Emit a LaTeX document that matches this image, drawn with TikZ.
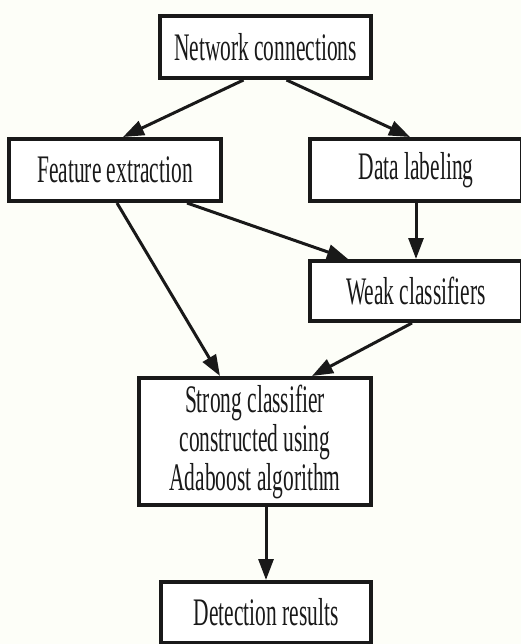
\documentclass[tikz,border=0pt]{standalone}
\usepackage{fontspec}
\newfontfamily\condserif[FakeStretch=0.55]{Liberation Serif}
\usetikzlibrary{arrows.meta}
\definecolor{bgcol}{RGB}{253,254,248}
\definecolor{inkcol}{RGB}{25,25,25}
\begin{document}
\begin{tikzpicture}[x=1pt,y=-1pt,
  box/.style={draw=inkcol,line width=4pt,fill=white,inner sep=0pt,
    font=\condserif\fontsize{39}{39}\selectfont,text=inkcol,align=center},
  arr/.style={draw=inkcol,line width=3pt,-{Triangle[length=21pt,width=15pt]}}]
\clip (0,0) rectangle (521,644);
\fill[bgcol] (0,0) rectangle (521,644);
\node[box,minimum width=211pt,minimum height=62pt] (net) at (265.5,47) {Network connections};
\node[box,minimum width=212pt,minimum height=62pt] (feat) at (115,170) {Feature extraction};
\node[box,minimum width=212pt,minimum height=62pt] (data) at (416,170) {Data labeling};
\node[box,minimum width=212pt,minimum height=60pt] (weak) at (416,291) {Weak classifiers};
\node[box,minimum width=232pt,minimum height=127pt] (strong) at (255,441.5) {Strong classifier\\constructed using\\Adaboost algorithm};
\node[box,minimum width=210pt,minimum height=61pt] (det) at (266,612.5) {Detection results};
\draw[arr] ([xshift=-22pt]net.south) -- ([xshift=8pt]feat.north);
\draw[arr] ([xshift=21pt]net.south) -- ([xshift=-6pt]data.north);
\draw[arr] ([xshift=72pt]feat.south) -- ([xshift=-68pt]weak.north);
\draw[arr] ([xshift=2pt]feat.south) -- ([xshift=-35pt]strong.north);
\draw[arr] (data.south) -- (weak.north);
\draw[arr] ([xshift=-4pt]weak.south) -- ([xshift=57pt]strong.north);
\draw[arr] ([xshift=11pt]strong.south) -- (det.north);
\end{tikzpicture}
\end{document}
